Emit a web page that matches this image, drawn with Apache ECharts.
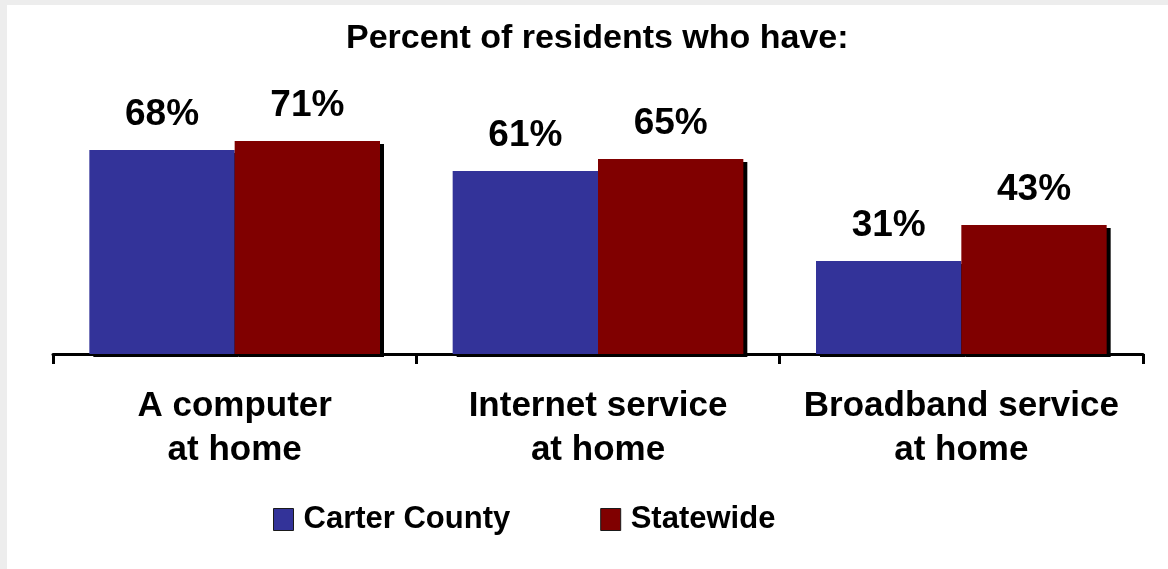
<!DOCTYPE html>
<html>
<head>
<meta charset="utf-8">
<script src="https://cdn.jsdelivr.net/npm/echarts@6/dist/echarts.min.js"></script>
<style>
  html, body { margin: 0; padding: 0; background: #ededed; width: 1168px; height: 569px; overflow: hidden; }
  #chart { position: absolute; left: 7px; top: 5px; width: 1161px; height: 564px; background: #ffffff; }
</style>
</head>
<body>
<div id="chart"></div>
<script>
const titleText = 'Percent of residents who have:';
const categories = ['A computer\nat home', 'Internet service\nat home', 'Broadband service\nat home'];
const seriesNames = ['Carter County', 'Statewide'];
const carterValues = [68, 61, 31];
const statewideValues = [71, 65, 43];

const FONT = '"Liberation Sans", Arial, sans-serif';
const chart = echarts.init(document.getElementById('chart'));

function barSeries(name, data, color) {
  return {
    name: name,
    type: 'bar',
    data: data,
    barGap: '0%',
    barCategoryGap: '20%',
    itemStyle: {
      color: color,
      borderWidth: 0,
      shadowColor: '#000000',
      shadowBlur: 0,
      shadowOffsetX: 4,
      shadowOffsetY: 3
    },
    label: {
      show: true,
      position: 'top',
      distance: 17,
      formatter: '{c}%',
      color: '#000000',
      fontFamily: FONT,
      fontWeight: 'bold',
      fontSize: 37
    },
    emphasis: { disabled: true }
  };
}

chart.setOption({
  animation: false,
  title: {
    text: titleText,
    left: 339,
    top: 17,
    padding: 0,
    textStyle: { fontFamily: FONT, fontWeight: 'bold', fontSize: 34, color: '#000000' }
  },
  legend: {
    data: seriesNames,
    left: 266,
    top: 499,
    padding: 0,
    icon: 'rect',
    itemWidth: 20,
    itemHeight: 22,
    itemGap: 90,
    textStyle: { fontFamily: FONT, fontWeight: 'bold', fontSize: 31, color: '#000000', padding: [0, 0, 0, 5] },
    itemStyle: { borderColor: '#1a1a1a', borderWidth: 1, shadowBlur: 0, shadowOffsetX: 0, shadowOffsetY: 0, shadowColor: 'rgba(0,0,0,0)' }
  },
  grid: { left: 46, right: 25, top: 49, bottom: 215, containLabel: false },
  xAxis: {
    type: 'category',
    data: categories,
    axisLine: { lineStyle: { color: '#000000', width: 3 } },
    axisTick: { show: true, length: 10, lineStyle: { color: '#000000', width: 3 } },
    axisLabel: {
      interval: 0,
      margin: 30,
      color: '#000000',
      fontFamily: FONT,
      fontWeight: 'bold',
      fontSize: 35,
      lineHeight: 44
    }
  },
  yAxis: {
    type: 'value',
    min: 0,
    max: 100,
    show: false,
    splitLine: { show: false }
  },
  series: [
    barSeries(seriesNames[0], carterValues, '#333399'),
    barSeries(seriesNames[1], statewideValues, '#800000')
  ]
});
</script>
</body>
</html>
